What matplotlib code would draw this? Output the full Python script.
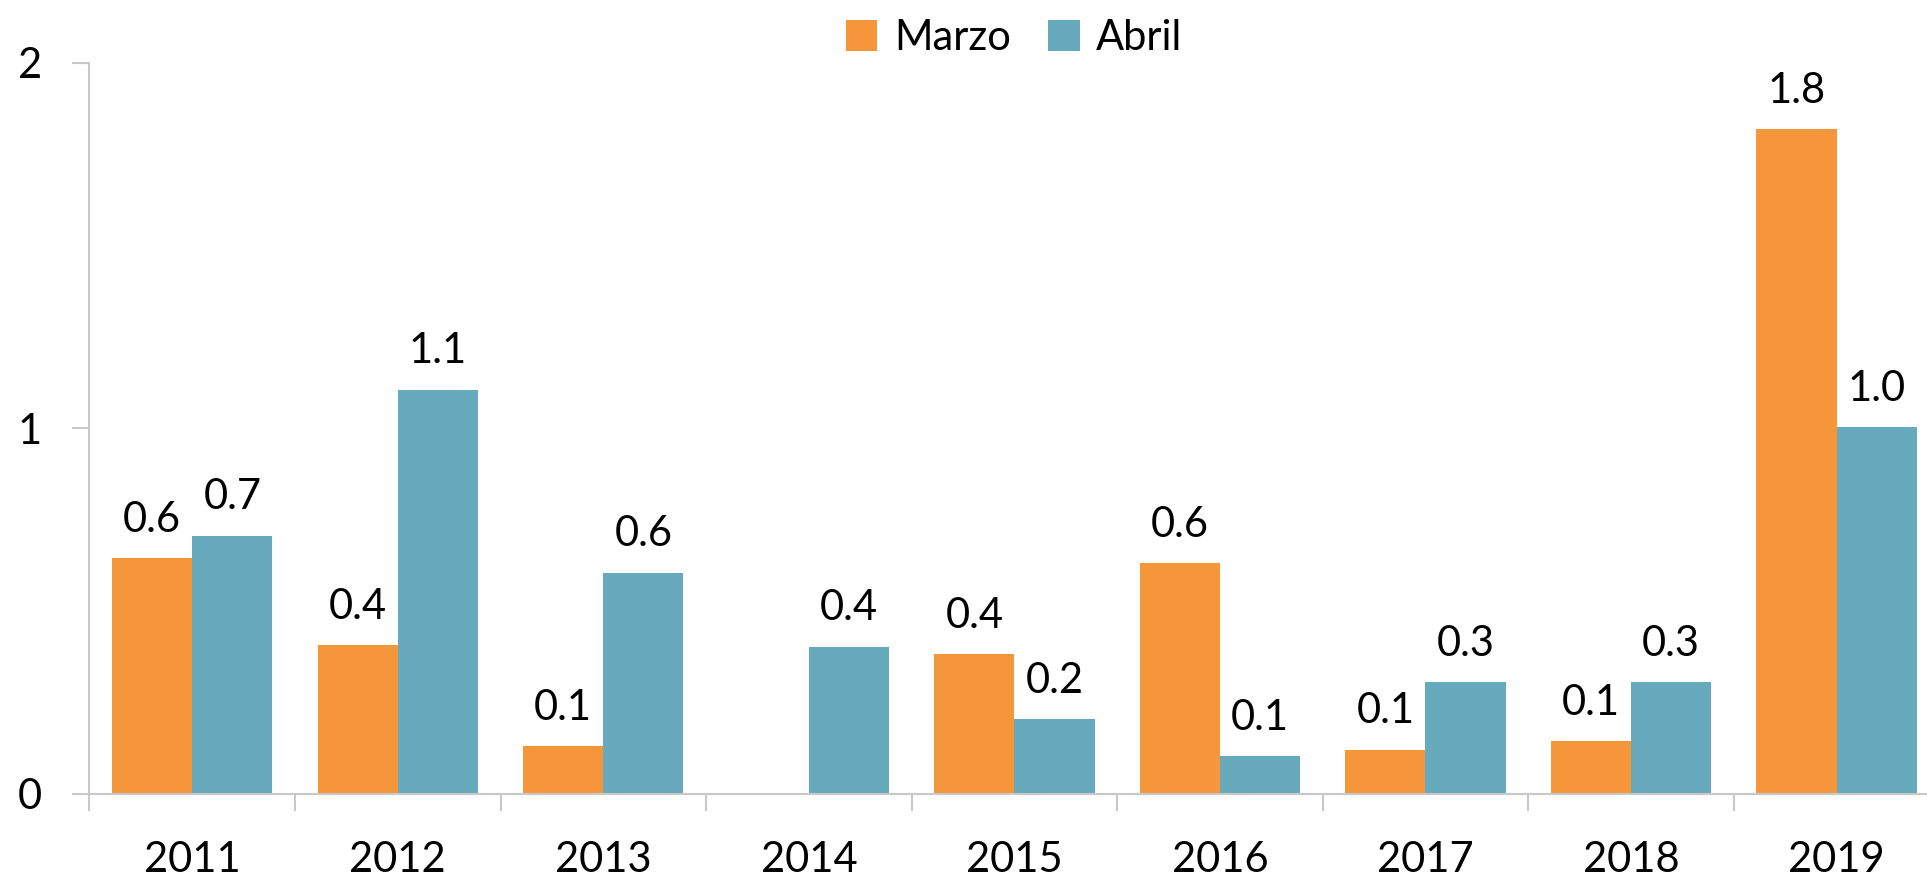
import numpy as np
import matplotlib
matplotlib.use('Agg')
from matplotlib import pyplot as plt
from matplotlib.ticker import FixedLocator

years = ['2011', '2012', '2013', '2014', '2015', '2016', '2017', '2018', '2019']
marzo = [0.645, 0.407, 0.131, 0.004, 0.383, 0.632, 0.121, 0.145, 1.819]
abril = [0.706, 1.106, 0.605, 0.403, 0.205, 0.104, 0.306, 0.306, 1.004]
yticks = [0, 1, 2]

c_marzo = '#F5963A'
c_abril = '#67A9BD'
gray = '#C8C8C8'

plt.rcParams['font.family'] = ['Lato', 'DejaVu Sans']

fig = plt.figure(figsize=(19.27, 8.82), dpi=100)
ax = fig.add_axes([0.0464, 0.0998, 0.960, 0.8288])

x = np.arange(len(years))
w = 0.39
b1 = ax.bar(x - w / 2, marzo, w, color=c_marzo, label='Marzo')
b2 = ax.bar(x + w / 2, abril, w, color=c_abril, label='Abril')

# value labels, skip the empty 2014 march bar
for bars, vals in ((b1, marzo), (b2, abril)):
    for b, v in zip(bars, vals):
        if v < 0.05:
            continue
        ax.annotate('%.1f' % v, (b.get_x() + b.get_width() / 2, v),
                    xytext=(0, 14), textcoords='offset points',
                    ha='center', va='bottom', fontsize=30)

ax.set_xlim(-0.5, len(years) - 0.5)
ax.set_ylim(0, 2)

ax.set_xticks(x)
ax.set_xticklabels(years, fontsize=30)
ax.tick_params(axis='x', which='major', length=0, pad=34)
ax.xaxis.set_minor_locator(FixedLocator(np.arange(-0.5, len(years), 1.0)))
ax.tick_params(axis='x', which='minor', length=12, width=1.5, color=gray, direction='out')

ax.set_yticks(yticks)
ax.set_yticklabels([str(t) for t in yticks], fontsize=30)
ax.tick_params(axis='y', length=12, width=1.5, color=gray, direction='out', pad=22)

for s in ('top', 'right'):
    ax.spines[s].set_visible(False)
for s in ('left', 'bottom'):
    ax.spines[s].set_color(gray)
    ax.spines[s].set_linewidth(1.5)

ax.legend(loc='lower center', bbox_to_anchor=(0.5, 0.985), ncol=2, frameon=False,
          fontsize=30, handlelength=0.75, handleheight=0.75, handletextpad=0.4,
          columnspacing=0.9, borderaxespad=0)

fig.savefig('out.png', dpi=100)
